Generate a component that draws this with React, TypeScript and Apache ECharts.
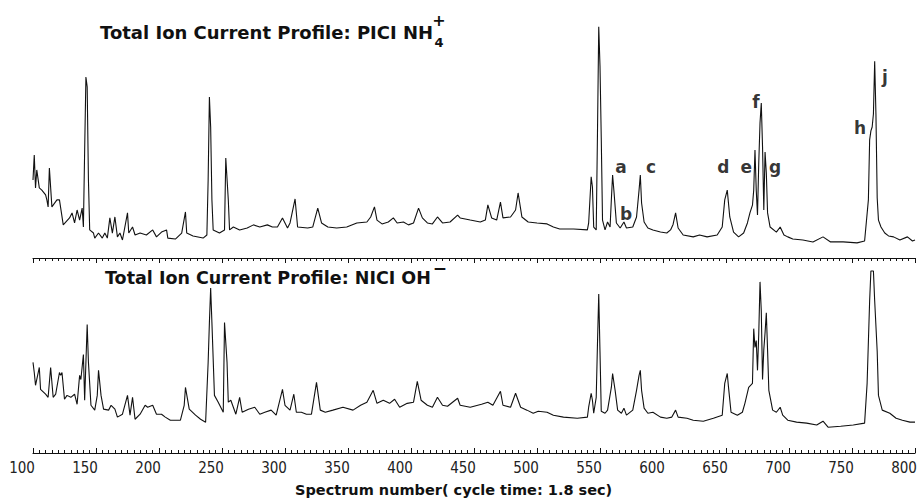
import React, { useEffect, useRef } from "react";
import * as echarts from "echarts";

// Spectrum number axis ticks
const axisMin = 100;
const axisMax = 800;
const axisStep = 50;

// Top trace: PICI NH4+ total ion current (relative intensity, 0-100)
const topSpectrum = [100,101,102,103,105,107,110,111,112,113,115,119,121,124,129,131,133,135,137,139,140,141,142,143,144,145,148,149,152,155,157,159,161,163,165,167,169,171,175,176,179,181,185,190,195,198,202,206,207,213,218,221,222,227,235,238,239,240,241,242,243,248,252,253,255,256,259,264,270,275,280,286,290,294,298,302,304,308,310,318,322,326,329,334,341,349,357,365,368,371,373,377,382,386,389,394,398,402,406,409,413,417,421,425,431,437,439,447,455,459,461,464,468,471,473,479,483,485,488,493,500,508,513,518,529,540,541,543,544,545,547,548,549,550,551,552,554,556,558,559,560,561,563,566,569,571,576,579,581,582,583,585,588,592,598,603,606,608,610,612,616,624,629,635,643,647,649,651,653,656,660,664,667,669,671,672,673,674,675,676,677,678,679,680,681,682,683,685,690,693,696,699,703,711,719,727,733,743,754,760,763,764,765,766,767,768,769,770,771,773,776,779,783,788,794,798,800];
const topIntensity = [32.5,42.9,29.2,36.7,29.2,28.3,26.3,24.2,21.3,37.5,21.3,24.2,24.2,13.8,16.7,18.8,14.6,20,15.8,20.8,12.9,45,75.4,71.3,32.5,11.7,10.4,8.3,10.4,8.3,10.4,8.3,16.7,10.4,17.1,8.8,10.4,7.5,18.8,10.4,12.9,9.6,10.4,9.6,11.7,8.8,10.8,11.7,8.3,7.9,10.4,19.2,10.4,9.2,8.3,9.6,32.5,67.1,54.6,24.2,11.7,10.4,11.7,41.7,24.2,11.7,12.9,11.7,12.5,13.8,12.9,13.8,12.9,12.9,16.7,12.5,14.6,24.6,12.9,12.5,12.9,20.8,14.6,12.9,12.5,12.9,14.6,15,17.1,21.3,15.8,14.2,15,16.7,14.6,15,13.8,14.6,20.8,16.7,14.6,14.2,17.1,14.6,15,17.9,16.7,15.8,15,15.8,22.1,16.7,15.8,23.3,16.7,17.1,20,27.1,17.1,15,14.6,14.2,12.9,12.1,12.1,11.7,14.6,33.8,29.6,12.9,11.7,52.1,96.3,80,50,15.8,11.7,15,12.9,24.2,34.6,28.3,14.6,12.5,15,12.5,12.9,17.1,28.3,34.6,22.9,15,12.5,11.7,10.8,10.4,11.7,14,18.8,12.5,9.6,8.8,9.6,8.8,9.6,12.9,24.2,28.3,17.1,10.8,8.8,10.4,14.6,18.8,22,28.3,45,28.3,17.9,39.6,56.3,64.6,46.3,20,44.2,35.4,18.8,12.9,10.8,12.9,9.6,8.8,7.9,7.5,6.7,8.8,6.7,6.7,6.3,7.1,24.2,49.2,53,54.6,60,82,60,25,15.8,12.9,10.4,9.2,8.8,7.5,8.8,7.1,7.5];

// Bottom trace: NICI OH- total ion current (relative intensity, 0-100)
const bottomSpectrum = [100,101,102,105,106,110,112,114,116,118,121,122,123,125,127,130,133,135,137,138,140,141,143,144,146,149,151,152,154,156,160,162,165,167,171,175,177,179,181,185,189,191,195,198,202,205,209,217,220,221,224,229,233,237,239,240,241,242,244,247,251,252,254,255,257,261,264,266,271,276,280,284,289,293,298,300,304,307,309,313,317,321,325,328,332,338,346,354,360,365,370,373,378,383,387,391,397,402,405,408,413,417,421,425,429,437,439,447,456,461,465,471,473,479,483,487,492,497,501,508,513,521,532,540,541,543,544,545,547,548,549,550,551,554,556,559,560,562,564,567,569,571,576,579,581,582,583,585,588,592,598,603,607,610,612,619,624,632,640,647,649,651,652,654,659,663,665,668,671,672,673,674,675,676,677,678,679,680,681,682,683,684,687,690,693,695,699,706,714,722,727,731,741,751,760,762,764,765,767,768,770,771,774,780,785,790,796,800];
const bottomIntensity = [46.7,41.5,34.9,44.1,32.8,30.3,28.7,44.1,28.7,30.3,41.5,40,41.5,27.7,29.7,28.7,30.3,25.1,40,37.9,50.8,27.2,66.2,46.7,24.6,22.1,29.7,42.6,29.7,22.6,22.1,24.6,22.6,18.5,20,29.7,19.5,28.7,17.4,20,24.6,23.6,24.6,20,20,18.5,16.9,16.9,24.6,33.8,22.6,19.5,17.4,15.9,46.7,67.2,85.1,67.2,29.7,26.2,21,67.2,46.7,26.2,27.2,20,28.7,21,22.6,23.6,20,21,22.1,19.5,32.8,24.6,22.1,30.3,21,21,20,20,36.4,22.1,21,22.1,23.6,22.1,24.6,26.2,32.3,25.6,27.2,25.6,27.7,23.6,25.6,26.2,36.9,27.2,24.6,23.6,28.7,24.6,24.1,28.2,24.6,23.6,25.1,26.2,24.6,31.8,24.6,23.6,30.8,23.6,22.1,20.5,21.5,21,19.5,18.5,17.9,18.5,23.6,30.8,27.2,20.5,28.7,56.4,82,52,21.5,20.5,22.1,33.8,41,32.3,22.1,20.5,23.1,19.5,22.1,32.3,40,42.6,32.3,23.1,20.5,21,18.5,17.9,18.5,22.1,18.5,17.9,16.9,16.4,17.9,19.5,35.9,41,33.8,21,19.5,21,25.6,33.8,35.9,64.1,54.4,58,42.6,61.5,88.2,73.3,37.9,53.3,62,72.3,53,32.3,22.1,21,23.6,19.5,16.9,15.9,15.4,14.4,16.4,13.3,13.8,14.4,15.4,35.9,78.5,93.8,93.8,78.5,52.3,29.7,22.1,20.5,17.9,16.9,15.9,15.9];

// Peak letters in the top profile (spectrum number, label height in intensity units)
const peakLetters = ["a", "b", "c", "d", "e", "f", "g", "h", "j"];
const peakSpectrum = [566.7, 570.6, 590.6, 647.8, 666, 673.8, 688.9, 756.3, 776.2];
const peakLabelLevel = [37.9, 18.3, 37.9, 37.9, 37.9, 65, 37.9, 54.2, 75.4];

const topTitle = "Total Ion Current Profile: PICI NH";
const bottomTitle = "Total Ion Current Profile: NICI OH";
const xAxisTitle = "Spectrum number( cycle time: 1.8 sec)";

const INK = "#111111";
const TITLE_FONT = "'DejaVu Sans', sans-serif";

function measure(text: string, font: string): number {
  const ctx = document.createElement("canvas").getContext("2d");
  if (!ctx) return text.length * 10;
  ctx.font = font;
  return ctx.measureText(text).width;
}

export default function App() {
  const ref = useRef<HTMLDivElement>(null);
  useEffect(() => {
    if (!ref.current) return;
    const chart = echarts.init(ref.current, null, { renderer: "svg" });
    const zip = (xs: number[], ys: number[]) => xs.map((x, i) => [x, ys[i]]);
    const w1 = measure(topTitle, "bold 18px 'DejaVu Sans'");
    const w2 = measure(bottomTitle, "bold 17.5px 'DejaVu Sans'");
    const t1x = 100;
    const t2x = 105;

    const tickAxisCommon = {
      type: "value" as const,
      min: axisMin,
      max: axisMax,
      interval: axisStep,
      splitLine: { show: false },
      axisLine: { show: true, onZero: false, lineStyle: { color: INK, width: 1.2 } },
      minorTick: { show: true, splitNumber: 10, length: 3, lineStyle: { color: INK, width: 1 } },
      minorSplitLine: { show: false },
    };

    chart.setOption({
      animation: false,
      backgroundColor: "#ffffff",
      grid: [
        { left: 33, right: 7, top: 18, height: 240 },
        { left: 33, right: 7, top: 259, height: 194 },
      ],
      xAxis: [
        {
          ...tickAxisCommon,
          gridIndex: 0,
          position: "bottom",
          axisTick: { show: true, inside: false, length: 5, lineStyle: { color: INK, width: 1 } },
          axisLabel: { show: false },
        },
        {
          ...tickAxisCommon,
          gridIndex: 1,
          position: "bottom",
          axisTick: { show: true, inside: true, length: 5, lineStyle: { color: INK, width: 1 } },
          axisLabel: {
            show: true,
            margin: 7,
            color: "#222",
            fontSize: 15,
            fontFamily: "'DejaVu Sans Condensed', 'Liberation Sans Narrow', Roboto, sans-serif",
            padding: [0, 22, 0, 0],
          },
        },
      ],
      yAxis: [
        { type: "value", gridIndex: 0, min: 0, max: 100, show: false },
        { type: "value", gridIndex: 1, min: 0, max: 100, show: false },
      ],
      series: [
        {
          type: "line",
          xAxisIndex: 0,
          yAxisIndex: 0,
          data: zip(topSpectrum, topIntensity),
          showSymbol: false,
          symbol: "none",
          lineStyle: { color: INK, width: 1.1 },
        },
        {
          type: "line",
          xAxisIndex: 1,
          yAxisIndex: 1,
          data: zip(bottomSpectrum, bottomIntensity),
          showSymbol: false,
          symbol: "none",
          lineStyle: { color: INK, width: 1.1 },
        },
        {
          type: "scatter",
          xAxisIndex: 0,
          yAxisIndex: 0,
          symbolSize: 1,
          itemStyle: { color: "rgba(0,0,0,0)" },
          data: peakLetters.map((l, i) => ({ name: l, value: [peakSpectrum[i], peakLabelLevel[i]] })),
          label: {
            show: true,
            position: "inside",
            formatter: (p: any) => p.name,
            color: "#000",
            fontSize: 17,
            fontWeight: "bold",
            fontFamily: TITLE_FONT,
          },
        },
      ],
      graphic: [
        {
          type: "text",
          x: t1x,
          y: 32,
          style: { text: topTitle, fill: INK, fontSize: 18, fontWeight: "bold", fontFamily: TITLE_FONT, verticalAlign: "middle", align: "left" },
        },
        {
          type: "text",
          x: t1x + w1 + 6,
          y: 20,
          style: { text: "+", fill: INK, fontSize: 16, fontWeight: "bold", fontFamily: TITLE_FONT, verticalAlign: "middle", align: "center" },
        },
        {
          type: "text",
          x: t1x + w1 + 6,
          y: 42,
          style: { text: "4", fill: INK, fontSize: 13, fontWeight: "bold", fontFamily: TITLE_FONT, verticalAlign: "middle", align: "center" },
        },
        {
          type: "text",
          x: t2x,
          y: 278,
          style: { text: bottomTitle, fill: INK, fontSize: 17.5, fontWeight: "bold", fontFamily: TITLE_FONT, verticalAlign: "middle", align: "left" },
        },
        {
          type: "text",
          x: t2x + w2 + 9,
          y: 268,
          style: { text: "\u2212", fill: INK, fontSize: 17, fontWeight: "bold", fontFamily: TITLE_FONT, verticalAlign: "middle", align: "center" },
        },
        {
          type: "text",
          x: 295,
          y: 490,
          style: { text: xAxisTitle, fill: INK, fontSize: 14.5, fontWeight: "bold", fontFamily: TITLE_FONT, verticalAlign: "middle", align: "left" },
        },
      ],
    });
    return () => chart.dispose();
  }, []);
  return (
    <div
      ref={ref}
      style={{ position: "fixed", left: 0, top: 0, width: 922, height: 502, background: "#fff" }}
    />
  );
}
